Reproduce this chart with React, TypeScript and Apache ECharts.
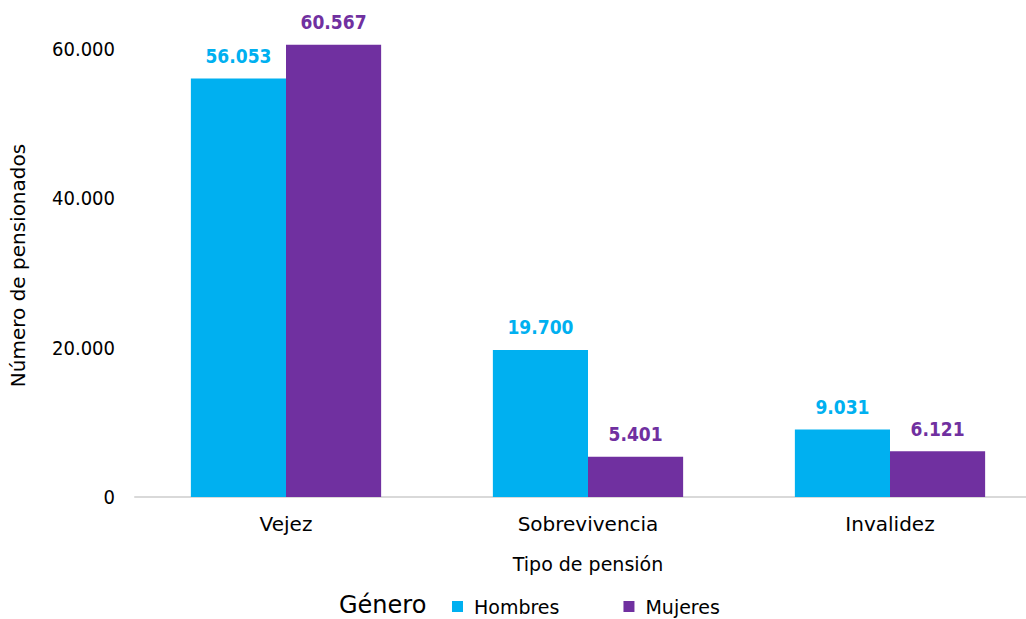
import React, { useEffect, useRef } from "react";
import * as echarts from "echarts";

const categories = ["Vejez", "Sobrevivencia", "Invalidez"];
const hombres = [56053, 19700, 9031];
const mujeres = [60567, 5401, 6121];
const seriesNames = ["Hombres", "Mujeres"];
const colors = ["#00B0F0", "#7030A0"];
const yTicks = [0, 20000, 40000, 60000];

const FONT = "'DejaVu Sans', 'Noto Sans', sans-serif";
const NUMFONT = "'DejaVu Sans Condensed', 'DejaVu Sans', sans-serif";

const fmt = (v: number) => String(Math.round(v)).replace(/\B(?=(\d{3})+(?!\d))/g, ".");

export default function App() {
  const ref = useRef<HTMLDivElement>(null);
  useEffect(() => {
    if (!ref.current) return;
    const chart = echarts.init(ref.current, undefined, { renderer: "svg" });
    const mk = (name: string, data: number[], color: string) => ({
      name,
      type: "bar",
      data,
      barGap: "0%",
      barCategoryGap: "37%",
      itemStyle: { color },
      label: {
        show: true,
        position: "top",
        distance: 13,
        color,
        fontFamily: NUMFONT,
        fontWeight: "bold",
        fontSize: 19,
        formatter: (p: any) => fmt(p.value),
      },
    });
    chart.setOption({
      animation: false,
      textStyle: { fontFamily: FONT },
      grid: { left: 134, top: 34, width: 907, height: 463, containLabel: false },
      legend: {
        data: seriesNames,
        left: 447,
        top: 592,
        itemWidth: 11,
        itemHeight: 11,
        itemGap: 64,
        icon: "rect",
        textStyle: {
          fontFamily: FONT,
          fontSize: 19,
          color: "#000",
          padding: [0, 0, 0, 6],
        },
      },
      graphic: [
        {
          type: "text",
          x: 339,
          y: 605,
          style: {
            text: "Género",
            fontFamily: FONT,
            fontSize: 24,
            lineHeight: 24,
            fill: "#000",
            verticalAlign: "middle",
          },
        },
      ],
      xAxis: {
        type: "category",
        data: categories,
        name: "Tipo de pensión",
        nameLocation: "middle",
        nameGap: 57,
        nameTextStyle: { fontFamily: FONT, fontSize: 19, color: "#000" },
        axisLine: { lineStyle: { color: "#D9D9D9", width: 2 } },
        axisTick: { show: false },
        axisLabel: { margin: 17, fontFamily: FONT, fontSize: 20, color: "#000" },
      },
      yAxis: {
        type: "value",
        min: 0,
        max: 62000,
        interval: 20000,
        name: "Número de pensionados",
        nameLocation: "middle",
        nameGap: 107,
        nameTextStyle: { fontFamily: FONT, fontSize: 20, color: "#000" },
        splitLine: { show: false },
        axisLine: { show: false },
        axisTick: { show: false },
        axisLabel: {
          margin: 20,
          showMaxLabel: false,
          fontFamily: NUMFONT,
          fontSize: 20,
          color: "#000",
          formatter: (v: number) => (yTicks.includes(v) ? fmt(v) : ""),
        },
      },
      series: [mk(seriesNames[0], hombres, colors[0]), mk(seriesNames[1], mujeres, colors[1])],
    });
    return () => chart.dispose();
  }, []);
  return (
    <div
      style={{
        position: "absolute",
        left: 0,
        top: 0,
        width: 1026,
        height: 619,
        overflow: "hidden",
        background: "#fff",
      }}
    >
      <div ref={ref} style={{ width: 1060, height: 619 }} />
    </div>
  );
}
